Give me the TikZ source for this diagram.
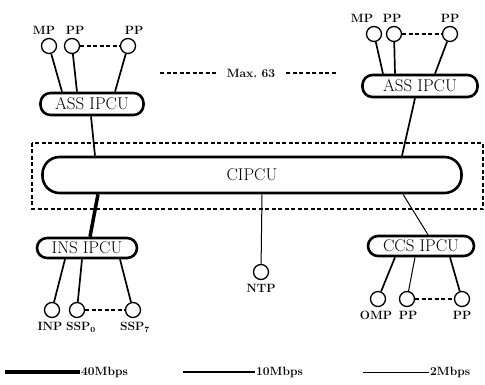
\documentclass[tikz,border=0pt]{standalone}
\usetikzlibrary{calc,positioning}

\begin{document}
\begin{tikzpicture}[x=1pt,y=-1pt,
 unit/.style={draw,line width=2.6pt,rounded corners=10pt,minimum height=22pt,inner sep=0pt,font=\fontsize{17}{19}\selectfont},
 port/.style={draw,circle,line width=1.3pt,minimum size=15pt,inner sep=0pt},
 tag/.style={font=\fontsize{12}{14}\selectfont\bfseries,inner sep=1pt},
 fast/.style={line width=3.5pt},
 mid/.style={line width=1.7pt},
 slow/.style={line width=1pt},
 gap/.style={line width=1.2pt,dash pattern=on 4pt off 2.5pt}]
\useasboundingbox (0,0) rectangle (485,385);
\draw[gap] (32,143) rectangle (483,209);
\node[unit,minimum width=419pt,minimum height=36pt,rounded corners=17pt] (cipcu) at (252,175) {CIPCU};
\node[unit,minimum width=103pt] (assL) at (92,104) {ASS IPCU};
\node[unit,minimum width=115pt] (assR) at (420,86) {ASS IPCU};
\node[unit,minimum width=100pt,minimum height=20pt] (insL) at (87,248) {INS IPCU};
\node[unit,minimum width=106pt,minimum height=20pt] (ccs) at (421,246) {CCS IPCU};
\node[port] (mpL) at (49,46) {};
\node[port] (ppL1) at (72,46) {};
\node[port] (ppL2) at (128,46) {};
\node[port] (mpR) at (374,34) {};
\node[port] (ppR1) at (394,34) {};
\node[port] (ppR2) at (450,34) {};
\node[port] (inp) at (52,310) {};
\node[port] (ssp0) at (77,310) {};
\node[port] (ssp7) at (133,310) {};
\node[port] (ntp) at (261,272) {};
\node[port] (omp) at (378,299) {};
\node[port] (ppC1) at (407,299) {};
\node[port] (ppC2) at (462,299) {};
\node[tag,above=2pt of mpL,xshift=-5pt] (mpLt) {MP};
\node[tag,above=2pt of ppL1,xshift=3pt] (ppL1t) {PP};
\node[tag,above=2pt of ppL2,xshift=6pt] (ppL2t) {PP};
\node[tag,above=2pt of mpR,xshift=-12pt] (mpRt) {MP};
\node[tag,above=2pt of ppR1,xshift=-2pt] (ppR1t) {PP};
\node[tag,above=2pt of ppR2] (ppR2t) {PP};
\node[tag,below=3pt of inp,xshift=-2pt] (inpt) {INP};
\node[tag,below=3pt of ssp0,xshift=4pt] (ssp0t) {SSP$_{\mathbf{0}}$};
\node[tag,below=3pt of ssp7,xshift=2pt] (ssp7t) {SSP$_{\mathbf{7}}$};
\node[tag,below=3pt of ntp] (ntpt) {NTP};
\node[tag,below=3pt of omp,xshift=-2pt] (ompt) {OMP};
\node[tag,below=3pt of ppC1,xshift=1pt] (ppC1t) {PP};
\node[tag,below=3pt of ppC2] (ppC2t) {PP};
\node[tag,inner xsep=11pt] (maxn) at (251,73) {Max.\ 63};
\coordinate (dl) at (160,73);
\coordinate (dr) at (336,73);
\draw[gap] (dl) -- (maxn);
\draw[gap] (maxn) -- (dr);
\draw[gap] (ppL1) -- (ppL2);
\draw[gap] (ppR1) -- (ppR2);
\draw[gap] (ssp0) -- (ssp7);
\draw[gap] (ppC1) -- (ppC2);
\draw[mid] (mpL) -- ($(assL.north)+(-30,0)$);
\draw[mid] (ppL1) -- ($(assL.north)+(-15,0)$);
\draw[mid] (ppL2) -- ($(assL.north)+(23,0)$);
\draw[mid] (mpR) -- ($(assR.north)+(-37,0)$);
\draw[mid] (ppR1) -- ($(assR.north)+(-25,0)$);
\draw[mid] (ppR2) -- ($(assR.north)+(15,0)$);
\draw[mid] ($(insL.south)+(-22,0)$) -- (inp);
\draw[mid] ($(insL.south)+(-5,0)$) -- (ssp0);
\draw[mid] ($(insL.south)+(33,0)$) -- (ssp7);
\draw[mid] ($(ccs.south)+(-26,0)$) -- (omp);
\draw[slow] ($(ccs.south)+(-6,0)$) -- (ppC1);
\draw[mid] ($(ccs.south)+(29,0)$) -- (ppC2);
\draw[mid] ($(assL.south)+(-1,0)$) -- ($(cipcu.north)+(-157,0)$);
\draw[mid] ($(assR.south)+(-5,0)$) -- ($(cipcu.north)+(150,0)$);
\draw[fast] ($(cipcu.south)+(-154,0)$) -- ($(insL.north)+(3,0)$);
\draw[slow] ($(cipcu.south)+(10,0)$) -- (ntp);
\draw[slow] ($(cipcu.south)+(151,0)$) -- ($(ccs.north)+(7,0)$);
\coordinate (l40) at (5,372);
\coordinate (l10) at (183,372);
\coordinate (l2) at (363,372);
\node[tag,anchor=west] (t40) at (80,372) {40Mbps};
\node[tag,anchor=west] (t10) at (255,372) {10Mbps};
\node[tag,anchor=west] (t2) at (429,372) {2Mbps};
\draw[fast] (l40) -- (t40);
\draw[mid] (l10) -- (t10);
\draw[slow] (l2) -- (t2);
\end{tikzpicture}
\end{document}
